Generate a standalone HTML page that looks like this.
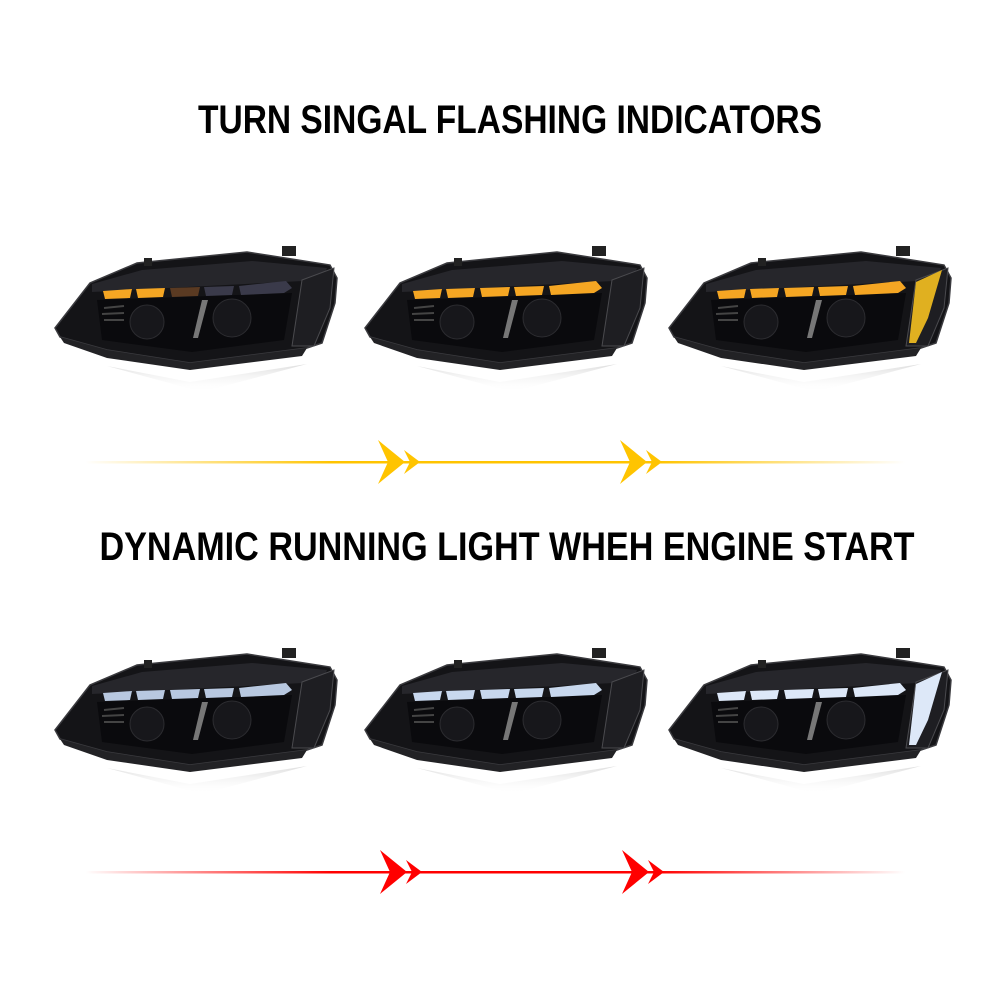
<!DOCTYPE html>
<html><head><meta charset="utf-8"><style>
html,body{margin:0;padding:0;background:#fff;width:1000px;height:1000px;overflow:hidden}
</style></head><body>
<svg width="1000" height="1000" viewBox="0 0 1000 1000" xmlns="http://www.w3.org/2000/svg">
<defs>
<linearGradient id="yl" x1="0" x2="1"><stop offset="0" stop-color="#ffc400" stop-opacity="0"/><stop offset="0.3" stop-color="#ffc400"/><stop offset="0.7" stop-color="#ffc400"/><stop offset="1" stop-color="#ffc400" stop-opacity="0"/></linearGradient>
<linearGradient id="rl" x1="0" x2="1"><stop offset="0" stop-color="#ff0000" stop-opacity="0"/><stop offset="0.3" stop-color="#ff0000"/><stop offset="0.7" stop-color="#ff0000"/><stop offset="1" stop-color="#ff0000" stop-opacity="0"/></linearGradient>
<linearGradient id="refl" x1="0" y1="0" x2="0" y2="1"><stop offset="0" stop-color="#cfcfcf" stop-opacity="0.7"/><stop offset="1" stop-color="#fff" stop-opacity="0"/></linearGradient>
<g id="hl">
  <path d="M55,102 L138,118 L255,100 L150,128 Z" fill="url(#refl)" transform="translate(0,16)"/>
  <path d="M3,80 L38,35 L85,15 L195,4 L278,17 L285,30 L283,55 L270,95 L255,100 L138,115 L55,102 L8,89 Z" fill="#141417" stroke="#3a3a3e" stroke-width="1.5"/>
  <path d="M8,89 L55,102 L138,115 L255,100 L250,108 L138,122 L55,110 L12,95 Z" fill="#222225"/>
  <path d="M40,36 L90,22 L200,13 L275,20 L270,32 L40,44 Z" fill="#26262b"/>
  <path d="M45,52 L240,45 L232,92 L140,104 L50,92 Z" fill="#0a0a0d"/>
  <circle cx="95" cy="74" r="17" fill="#17171b" stroke="#2c2c30"/>
  <circle cx="180" cy="70" r="19" fill="#17171b" stroke="#2c2c30"/>
  <path d="M150,52 L156,52 L146,90 L141,90 Z" fill="#777"/>
  <path d="M52,60 L72,58 M50,66 L72,65 M52,72 L72,72" stroke="#444" stroke-width="2"/>
  <path d="M250,32 L282,20 L278,60 L262,98 L240,98 Z" fill="#1e1e22" stroke="#4a4a4e"/>
  <rect x="230" y="-2" width="14" height="10" fill="#222"/>
  <rect x="92" y="10" width="8" height="8" fill="#222"/>
</g>
<g id="pillsY"><path d="M51,43 L80,41 L78,50 L53,51 Z M84,41 L113,40 L111,49 L86,50 Z M118,40 L148,39 L146,48 L120,49 Z M152,39 L182,38 L180,47 L154,48 Z M187,38 L234,33 L240,40 L232,45 L189,47 Z" /></g>
</defs>

<text x="510" y="133" text-anchor="middle" font-family="Liberation Sans, sans-serif" font-weight="bold" font-size="40" textLength="624" lengthAdjust="spacingAndGlyphs">TURN SINGAL FLASHING INDICATORS</text>
<text x="507" y="560" text-anchor="middle" font-family="Liberation Sans, sans-serif" font-weight="bold" font-size="40" textLength="815" lengthAdjust="spacingAndGlyphs">DYNAMIC RUNNING LIGHT WHEH ENGINE START</text>

<g transform="translate(52,248)"><use href="#hl"/>
  <path d="M51,43 L80,41 L78,50 L53,51 Z M84,41 L113,40 L111,49 L86,50 Z" fill="#f5a623"/>
  <path d="M118,40 L148,39 L146,48 L120,49 Z" fill="#5a3a22"/>
  <path d="M152,39 L182,38 L180,47 L154,48 Z M187,38 L234,33 L240,40 L232,45 L189,47 Z" fill="#3a3a4a"/></g>
<g transform="translate(362,248)"><use href="#hl"/><use href="#pillsY" fill="#f5a623"/></g>
<g transform="translate(666,248)"><use href="#hl"/><use href="#pillsY" fill="#f5a623"/>
  <path d="M250,34 L276,22 L262,70 L250,95 L243,95 Z" fill="#e0b020"/></g>

<g transform="translate(52,650)"><use href="#hl"/><use href="#pillsY" fill="#b8c8e0"/></g>
<g transform="translate(362,650)"><use href="#hl"/><use href="#pillsY" fill="#c8d8ee"/></g>
<g transform="translate(666,650)"><use href="#hl"/><use href="#pillsY" fill="#dde8f8"/>
  <path d="M250,34 L276,22 L262,70 L250,95 L243,95 Z" fill="#dde8f8"/></g>

<rect x="85" y="461" width="820" height="2.5" fill="url(#yl)"/>
<g fill="#ffc400">
<path d="M378,440 L405,462 L378,484 L388,462 Z"/><path d="M404,450 L420,462 L404,474 L410,462 Z"/>
<path d="M620,440 L647,462 L620,484 L630,462 Z"/><path d="M646,450 L662,462 L646,474 L652,462 Z"/>
</g>
<rect x="85" y="871" width="820" height="2.5" fill="url(#rl)"/>
<g fill="#ff0000">
<path d="M380,850 L407,872 L380,894 L390,872 Z"/><path d="M406,860 L422,872 L406,884 L412,872 Z"/>
<path d="M622,850 L649,872 L622,894 L632,872 Z"/><path d="M648,860 L664,872 L648,884 L654,872 Z"/>
</g>
</svg>
</body></html>
